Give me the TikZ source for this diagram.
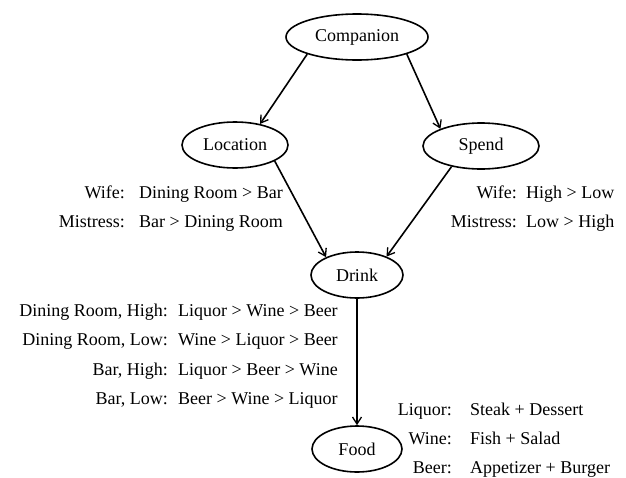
\documentclass[tikz,border=0pt]{standalone}
\usepackage{fontspec}
\setmainfont{Liberation Serif}
\newfontfamily\timesfam{Liberation Serif}
\usetikzlibrary{shapes.geometric,arrows.meta}
\begin{document}
\begin{tikzpicture}[x=1pt,y=-1pt,
  every node/.style={font=\timesfam\fontsize{18}{20}\selectfont},
  var/.style={ellipse,draw,line width=1.6pt,inner sep=0pt,minimum height=46pt},
  conn/.style={line width=1.6pt,-{Straight Barb[length=7pt,width=9pt,line width=1.3pt]}},
  lab/.style={anchor=base east,inner sep=0pt},
  val/.style={anchor=base west,inner sep=0pt}]
\useasboundingbox (0,0) rectangle (626,477);
\node[var,minimum width=142pt] (comp) at (357,37) {Companion};
\node[var,minimum width=106pt] (loc) at (235,145) {Location};
\node[var,minimum width=116pt] (spend) at (481,146) {Spend};
\node[var,minimum width=92pt] (drink) at (357,275) {Drink};
\node[var,minimum width=90pt] (food) at (357,449) {Food};

\draw[conn] (comp.199) -- (loc.40);
\draw[conn] (comp.341) -- (spend.157);
\draw[conn] (loc.338) -- (drink.150);
\draw[conn] (spend.215) -- (drink.32);
\draw[conn] (drink.south) -- (food.north);

% Location labels
\node[lab] (l1a) at (125,198) {Wife:};
\node[val] (l1b) at (139,198) {Dining Room > Bar};
\node[lab] (l2a) at (125,227) {Mistress:};
\node[val] (l2b) at (139,227) {Bar > Dining Room};
% Spend labels
\node[lab] (s1a) at (517,198) {Wife:};
\node[val] (s1b) at (526,198) {High > Low};
\node[lab] (s2a) at (517,227) {Mistress:};
\node[val] (s2b) at (526,227) {Low > High};
% Drink labels
\node[lab] (d1a) at (168,316.5) {Dining Room, High:};
\node[val] (d1b) at (178,316.5) {Liquor > Wine > Beer};
\node[lab] (d2a) at (168,345.8) {Dining Room, Low:};
\node[val] (d2b) at (178,345.8) {Wine > Liquor > Beer};
\node[lab] (d3a) at (168,375) {Bar, High:};
\node[val] (d3b) at (178,375) {Liquor > Beer > Wine};
\node[lab] (d4a) at (168,404.3) {Bar, Low:};
\node[val] (d4b) at (178,404.3) {Beer > Wine > Liquor};
% Food labels
\node[lab] (f1a) at (452,415) {Liquor:};
\node[val] (f1b) at (470,415) {Steak + Dessert};
\node[lab] (f2a) at (452,444) {Wine:};
\node[val] (f2b) at (470,444) {Fish + Salad};
\node[lab] (f3a) at (452,473) {Beer:};
\node[val] (f3b) at (470,473) {Appetizer + Burger};
\end{tikzpicture}
\end{document}
